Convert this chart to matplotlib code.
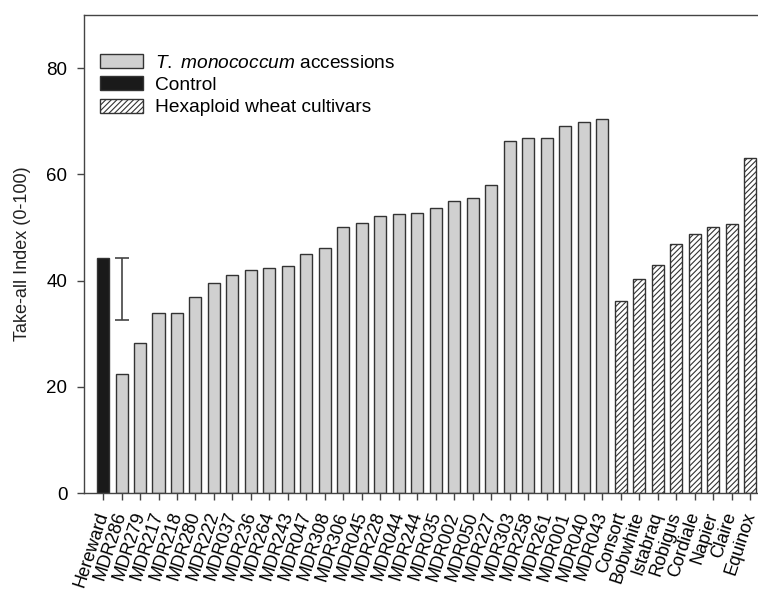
import matplotlib
matplotlib.use("Agg")
import matplotlib.pyplot as plt
from matplotlib.patches import Patch
import numpy as np

plt.rcParams['font.family'] = ['Liberation Sans', 'DejaVu Sans']
plt.rcParams['mathtext.fontset'] = 'custom'
plt.rcParams['mathtext.rm'] = 'Liberation Sans'
plt.rcParams['mathtext.it'] = 'Liberation Sans:italic'
plt.rcParams['hatch.linewidth'] = 0.8

# take-all index per line
control_names = ["Hereward"]
control_values = [44.2]

accession_names = ["MDR286", "MDR279", "MDR217", "MDR218", "MDR280", "MDR222",
                   "MDR037", "MDR236", "MDR264", "MDR243", "MDR047", "MDR308",
                   "MDR306", "MDR045", "MDR228", "MDR044", "MDR244", "MDR035",
                   "MDR002", "MDR050", "MDR227", "MDR303", "MDR258", "MDR261",
                   "MDR001", "MDR040", "MDR043"]
accession_values = [22.4, 28.2, 33.8, 33.9, 36.9, 39.6,
                    41.1, 42.0, 42.3, 42.7, 45.0, 46.2,
                    50.0, 50.9, 52.1, 52.6, 52.8, 53.6,
                    55.0, 55.5, 57.9, 66.2, 66.8, 66.8,
                    69.1, 69.9, 70.5]

cultivar_names = ["Consort", "Bobwhite", "Istabraq", "Robigus", "Cordiale",
                  "Napier", "Claire", "Equinox"]
cultivar_values = [36.1, 40.2, 43.0, 46.8, 48.7, 50.1, 50.6, 63.1]

# least significant difference bar
lsd = 11.7

names = control_names + accession_names + cultivar_names
n_ctrl = len(control_names)
n_acc = len(accession_names)
x_ctrl = np.arange(n_ctrl)
x_acc = np.arange(n_acc) + n_ctrl
x_cult = np.arange(len(cultivar_names)) + n_ctrl + n_acc

fig = plt.figure(figsize=(7.58, 5.92), dpi=100)
ax = fig.add_axes([0.1108, 0.1672, 1 - 0.1108, 0.8075])

edge = "#333333"
w = 0.65
acc_label = "$T.$ $monococcum$ accessions"
ax.bar(x_acc, accession_values, width=w, color="#d0d0d0", edgecolor=edge, linewidth=1.0)
ax.bar(x_ctrl, control_values, width=w, color="#1a1a1a", edgecolor=edge, linewidth=1.0)
ax.bar(x_cult, cultivar_values, width=w, color="white", edgecolor=edge, linewidth=1.0,
       hatch="//////")

ax.errorbar(1, control_values[0] - lsd / 2, yerr=lsd / 2, fmt="none",
            ecolor="#444444", elinewidth=1.2, capsize=4.7, capthick=1.2)

ax.set_xlim(-1.03, 35.42)
ax.set_ylim(0, 90)
ax.set_yticks([0, 20, 40, 60, 80])
ax.set_xticks(np.arange(len(names)))
ax.set_xticklabels(names, rotation=72, ha="right", va="center",
                   rotation_mode="anchor", fontsize=13)
ax.tick_params(axis="y", labelsize=13.5, direction="out", length=5, width=1,
               color="#444444", pad=7)
ax.tick_params(axis="x", direction="out", length=5, width=1, color="#444444", pad=9)
ax.set_ylabel("Take-all Index (0-100)", fontsize=13, color="#222222", labelpad=11)

for s in ["top", "left", "bottom"]:
    ax.spines[s].set_color("#444444")
    ax.spines[s].set_linewidth(1.0)
ax.spines["right"].set_visible(False)

handles = [
    Patch(facecolor="#d0d0d0", edgecolor=edge, linewidth=1.0),
    Patch(facecolor="#1a1a1a", edgecolor=edge, linewidth=1.0),
    Patch(facecolor="white", edgecolor=edge, linewidth=1.0, hatch="//////"),
]
labels = [acc_label, "Control", "Hexaploid wheat cultivars"]
ax.legend(handles, labels, loc="upper left", bbox_to_anchor=(0.024, 0.918),
          frameon=False, fontsize=13.8, handlelength=2.25, handleheight=0.74,
          handletextpad=0.62, labelspacing=0.24, borderpad=0, borderaxespad=0)

fig.savefig("out.png", dpi=100)
